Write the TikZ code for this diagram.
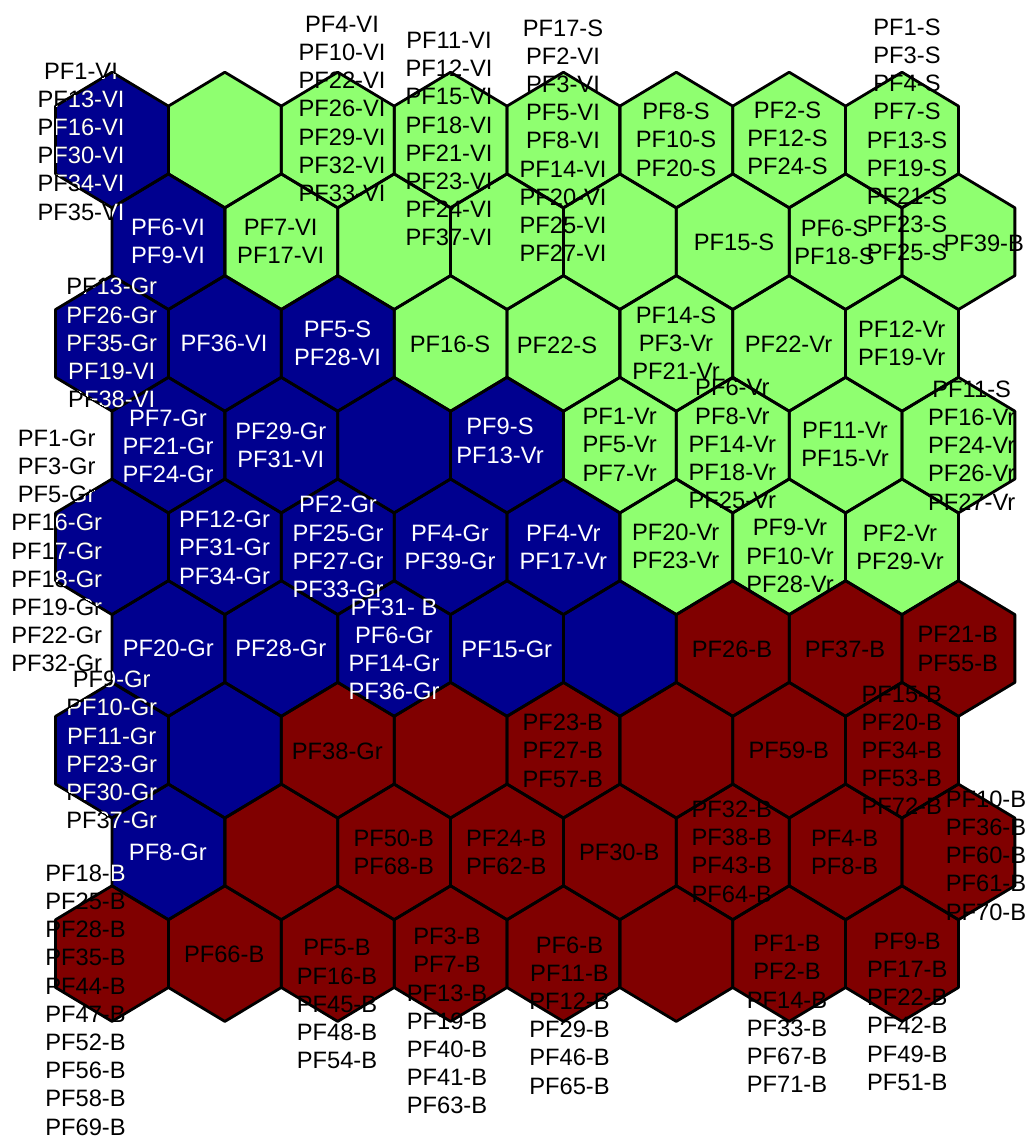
\documentclass[tikz,border=0pt]{standalone}
\usepackage{fontspec}
\setmainfont{Liberation Sans}
\definecolor{somblue}{RGB}{0,0,143}
\definecolor{somgreen}{RGB}{143,255,112}
\definecolor{somred}{RGB}{128,0,0}
\newcommand\somhex[2]{({#1},{#2-67.8}) -- ({#1+56.43},{#2-33.9}) -- ({#1+56.43},{#2+33.9}) -- ({#1},{#2+67.8}) -- ({#1-56.43},{#2+33.9}) -- ({#1-56.43},{#2-33.9}) -- cycle}
\newcommand\labA{PF1-VI\\PF13-VI\\PF16-VI\\PF30-VI\\PF34-VI\\PF35-VI}
\newcommand\labB{PF13-Gr\\PF26-Gr\\PF35-Gr\\PF19-VI\\PF38-VI}
\newcommand\labC{PF1-Gr\\PF3-Gr\\PF5-Gr\\PF16-Gr\\PF17-Gr\\PF18-Gr\\PF19-Gr\\PF22-Gr\\PF32-Gr}
\newcommand\labD{PF9-Gr\\PF10-Gr\\PF11-Gr\\PF23-Gr\\PF30-Gr\\PF37-Gr}
\newcommand\labE{PF18-B\\PF25-B\\PF28-B\\PF35-B\\PF44-B\\PF47-B\\PF52-B\\PF56-B\\PF58-B\\PF69-B}
\begin{document}
\begin{tikzpicture}[x=1pt,y=-1pt,
  hexline/.style={draw=black,line width=2.8pt,line join=round},
  lbl/.style={font=\fontsize{23.7}{28.2}\selectfont,align=center,inner sep=0pt,text=black},
  lblw/.style={lbl,text=white}]
\useasboundingbox (0,0) rectangle (1030,1136);
\fill[white] (0,0) rectangle (1030,1136);
% fills
\foreach \r/\k in {1/0,2/0,3/0,3/1,3/2,4/0,4/1,4/2,4/3,5/0,5/1,5/2,5/3,5/4,6/0,6/1,6/2,6/3,6/4,7/0,7/1,8/0}{
  \pgfmathsetmacro\cx{112+\k*112.86+(1-mod(\r,2))*56.43}
  \pgfmathsetmacro\cy{140+(\r-1)*101.7}
  \fill[somblue] \somhex{\cx}{\cy};}
\foreach \r/\k in {1/1,1/2,1/3,1/4,1/5,1/6,1/7,2/1,2/2,2/3,2/4,2/5,2/6,2/7,3/3,3/4,3/5,3/6,3/7,4/4,4/5,4/6,4/7,5/5,5/6,5/7}{
  \pgfmathsetmacro\cx{112+\k*112.86+(1-mod(\r,2))*56.43}
  \pgfmathsetmacro\cy{140+(\r-1)*101.7}
  \fill[somgreen] \somhex{\cx}{\cy};}
\foreach \r/\k in {6/5,6/6,6/7,7/2,7/3,7/4,7/5,7/6,7/7,8/1,8/2,8/3,8/4,8/5,8/6,8/7,9/0,9/1,9/2,9/3,9/4,9/5,9/6,9/7}{
  \pgfmathsetmacro\cx{112+\k*112.86+(1-mod(\r,2))*56.43}
  \pgfmathsetmacro\cy{140+(\r-1)*101.7}
  \fill[somred] \somhex{\cx}{\cy};}
% borders
\foreach \r in {1,...,9}{\foreach \k in {0,...,7}{
  \pgfmathsetmacro\cx{112+\k*112.86+(1-mod(\r,2))*56.43}
  \pgfmathsetmacro\cy{140+(\r-1)*101.7}
  \draw[hexline] \somhex{\cx}{\cy};}}
% row 1
\node[lbl] (r1c1) at (81,141.5) {\labA};
\node[lbl] (r1c3) at (342,108.8) {PF4-VI\\PF10-VI\\PF22-VI\\PF26-VI\\PF29-VI\\PF32-VI\\PF33-VI};
\node[lbl] (r1c4) at (449,139.2) {PF11-VI\\PF12-VI\\PF15-VI\\PF18-VI\\PF21-VI\\PF23-VI\\PF24-VI\\PF37-VI};
\node[lbl] (r1c5) at (563,140.7) {PF17-S\\PF2-VI\\PF3-VI\\PF5-VI\\PF8-VI\\PF14-VI\\PF20-VI\\PF25-VI\\PF27-VI};
\node[lbl] (r1c6) at (676,139.7) {PF8-S\\PF10-S\\PF20-S};
\node[lbl] (r1c7) at (787.5,138.3) {PF2-S\\PF12-S\\PF24-S};
\node[lbl] (r1c8) at (907,140) {PF1-S\\PF3-S\\PF4-S\\PF7-S\\PF13-S\\PF19-S\\PF21-S\\PF23-S\\PF25-S};
% row 2
\node[lblw] (r2c1) at (168,241.3) {PF6-VI\\PF9-VI};
\node[lbl] (r2c2) at (280.7,241.3) {PF7-VI\\PF17-VI};
\node[lbl] (r2c6) at (734,242.3) {PF15-S};
\node[lbl] (r2c7) at (834.5,242.5) {PF6-S\\PF18-S};
\node[lbl] (r2c8) at (983.7,243.3) {PF39-B};
% row 3
\node[lbl] (r3c1) at (111.7,343.1) {\labB};
\node[lblw] (r3c2) at (224,343.3) {PF36-VI};
\node[lblw] (r3c3) at (337.5,343.7) {PF5-S\\PF28-VI};
\node[lbl] (r3c4) at (450,344) {PF16-S};
\node[lbl] (r3c5) at (557,345) {PF22-S};
\node[lbl] (r3c6) at (676,343.3) {PF14-S\\PF3-Vr\\PF21-Vr};
\node[lbl] (r3c7) at (788.5,344) {PF22-Vr};
\node[lbl] (r3c8) at (901.7,343.3) {PF12-Vr\\PF19-Vr};
% row 4
\node[lblw] (r4c1) at (168,446.2) {PF7-Gr\\PF21-Gr\\PF24-Gr};
\node[lblw] (r4c2) at (280.8,445.2) {PF29-Gr\\PF31-VI};
\node[lblw] (r4c4) at (500,440.8) {PF9-S\\PF13-Vr};
\node[lbl] (r4c5) at (619.7,444.7) {PF1-Vr\\PF5-Vr\\PF7-Vr};
\node[lbl] (r4c6) at (732.3,444.2) {PF6-Vr\\PF8-Vr\\PF14-Vr\\PF18-Vr\\PF25-Vr};
\node[lbl] (r4c7) at (845,444.5) {PF11-Vr\\PF15-Vr};
\node[lbl] (r4c8) at (971.7,445.5) {PF11-S\\PF16-Vr\\PF24-Vr\\PF26-Vr\\PF27-Vr};
% row 5
\node[lbl] (r5c1) at (56.7,551) {\labC};
\node[lblw] (r5c2) at (224.5,547.7) {PF12-Gr\\PF31-Gr\\PF34-Gr};
\node[lblw] (r5c3) at (338,547) {PF2-Gr\\PF25-Gr\\PF27-Gr\\PF33-Gr};
\node[lblw] (r5c4) at (450,547) {PF4-Gr\\PF39-Gr};
\node[lblw] (r5c5) at (563.3,547) {PF4-Vr\\PF17-Vr};
\node[lbl] (r5c6) at (675.7,546.7) {PF20-Vr\\PF23-Vr};
\node[lbl] (r5c7) at (790,556) {PF9-Vr\\PF10-Vr\\PF28-Vr};
\node[lbl] (r5c8) at (900,547) {PF2-Vr\\PF29-Vr};
% row 6
\node[lblw] (r6c1) at (168.3,648.3) {PF20-Gr};
\node[lblw] (r6c2) at (280.8,648.3) {PF28-Gr};
\node[lblw] (r6c3) at (394,649.2) {PF31- B\\PF6-Gr\\PF14-Gr\\PF36-Gr};
\node[lblw] (r6c4) at (506.7,649) {PF15-Gr};
\node[lbl] (r6c6) at (732,649.3) {PF26-B};
\node[lbl] (r6c7) at (845,649.3) {PF37-B};
\node[lbl] (r6c8) at (957.8,648.8) {PF21-B\\PF55-B};
% row 7
\node[lbl] (r7c1) at (111.7,750) {\labD};
\node[lbl] (r7c3) at (337.3,751.7) {PF38-Gr};
\node[lbl] (r7c5) at (562.8,750.8) {PF23-B\\PF27-B\\PF57-B};
\node[lbl] (r7c7) at (788.8,750.7) {PF59-B};
\node[lbl] (r7c8) at (901.7,750.3) {PF15-B\\PF20-B\\PF34-B\\PF53-B\\PF72-B};
% row 8
\node[lblw] (r8c1) at (167.8,852.7) {PF8-Gr};
\node[lbl] (r8c3) at (393.7,852) {PF50-B\\PF68-B};
\node[lbl] (r8c4) at (506.3,852) {PF24-B\\PF62-B};
\node[lbl] (r8c5) at (619.2,852.7) {PF30-B};
\node[lbl] (r8c6) at (731.8,851.7) {PF32-B\\PF38-B\\PF43-B\\PF64-B};
\node[lbl] (r8c7) at (844.7,852.5) {PF4-B\\PF8-B};
\node[lbl] (r8c8) at (986,855.5) {PF10-B\\PF36-B\\PF60-B\\PF61-B\\PF70-B};
% row 9
\node[lbl] (r9c1) at (85.5,1000) {\labE};
\node[lbl] (r9c2) at (224.2,954) {PF66-B};
\node[lbl] (r9c3) at (337,1004.2) {PF5-B\\PF16-B\\PF45-B\\PF48-B\\PF54-B};
\node[lbl] (r9c4) at (447,1021.2) {PF3-B\\PF7-B\\PF13-B\\PF19-B\\PF40-B\\PF41-B\\PF63-B};
\node[lbl] (r9c5) at (569.5,1015.5) {PF6-B\\PF11-B\\PF12-B\\PF29-B\\PF46-B\\PF65-B};
\node[lbl] (r9c7) at (787,1014) {PF1-B\\PF2-B\\PF14-B\\PF33-B\\PF67-B\\PF71-B};
\node[lbl] (r9c8) at (907.2,1011.7) {PF9-B\\PF17-B\\PF22-B\\PF42-B\\PF49-B\\PF51-B};
% white overlay of labels that cross the blue region
\begin{scope}
\clip foreach \r/\k in {1/0,2/0,3/0,3/1,3/2,4/0,4/1,4/2,4/3,5/0,5/1,5/2,5/3,5/4,6/0,6/1,6/2,6/3,6/4,7/0,7/1,8/0}
  {\somhex{112+\k*112.86+(1-mod(\r,2))*56.43}{140+(\r-1)*101.7}};
\node[lblw] (r1c1w) at (81,141.5) {\labA};
\node[lblw] (r3c1w) at (111.7,343.1) {\labB};
\node[lblw] (r5c1w) at (56.7,551) {\labC};
\node[lblw] (r7c1w) at (111.7,750) {\labD};
\node[lblw] (r9c1w) at (85.5,1000) {\labE};
\end{scope}
\end{tikzpicture}
\end{document}
